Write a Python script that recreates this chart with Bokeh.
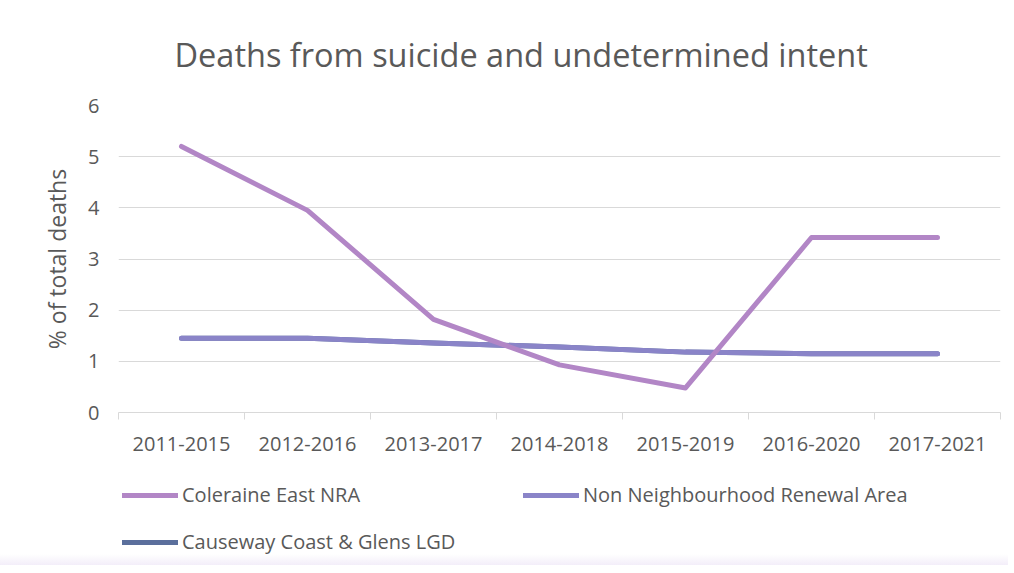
from bokeh.plotting import figure
from bokeh.layouts import column
from bokeh.models import Range1d, FixedTicker, Legend, LegendItem
from bokeh.embed import file_html
from bokeh.resources import INLINE

categories = ["2011-2015", "2012-2016", "2013-2017", "2014-2018", "2015-2019", "2016-2020", "2017-2021"]
coleraine_east = [5.2, 3.95, 1.82, 0.93, 0.48, 3.42, 3.42]
non_nra = [1.45, 1.45, 1.36, 1.28, 1.18, 1.15, 1.15]
causeway_lgd = [1.45, 1.45, 1.36, 1.28, 1.18, 1.15, 1.15]
y_ticks = [0, 1, 2, 3, 4, 5, 6]
series_names = ["Coleraine East NRA", "Non Neighbourhood Renewal Area", "Causeway Coast & Glens LGD"]
series_colors = ["#B286C6", "#8A84C8", "#5B6F9C"]

TEXT = "#595959"
GRID = "#D9D9D9"
FONT = "Open Sans"

x = list(range(len(categories)))

p = figure(frame_width=882, frame_height=307, output_backend="svg", toolbar_location=None,
           x_range=Range1d(-0.5, len(categories) - 0.5), y_range=Range1d(0, 6),
           min_border_left=118, min_border_right=8, min_border_top=105, min_border_bottom=58)
p.outline_line_color = None

p.title.text = "Deaths from suicide and undetermined intent"
p.title.align = "left"
p.title.offset = 56
p.title.text_font = FONT
p.title.text_font_style = "normal"
p.title.text_font_size = "32.5px"
p.title.text_color = TEXT
p.title.standoff = 57

# axes
p.xaxis.ticker = FixedTicker(ticks=x, minor_ticks=[i - 0.5 for i in range(len(categories) + 1)])
p.xaxis.major_label_overrides = {i: c for i, c in enumerate(categories)}
p.xaxis.axis_line_color = GRID
p.xaxis.major_tick_line_color = None
p.xaxis.major_tick_out = 0
p.xaxis.minor_tick_line_color = GRID
p.xaxis.minor_tick_out = 7
p.xaxis.minor_tick_in = 0
p.xaxis.major_label_standoff = 17
p.xaxis.major_label_text_font = FONT
p.xaxis.major_label_text_font_size = "20px"
p.xaxis.major_label_text_color = TEXT

p.yaxis.ticker = FixedTicker(ticks=y_ticks, minor_ticks=[])
p.yaxis.axis_line_color = None
p.yaxis.major_tick_line_color = None
p.yaxis.minor_tick_line_color = None
p.yaxis.major_label_standoff = 13
p.yaxis.major_label_text_font = FONT
p.yaxis.major_label_text_font_size = "20px"
p.yaxis.major_label_text_color = TEXT
p.yaxis.axis_label = "% of total deaths"
p.yaxis.axis_label_text_font = FONT
p.yaxis.axis_label_text_font_style = "normal"
p.yaxis.axis_label_text_font_size = "23px"
p.yaxis.axis_label_text_color = TEXT
p.yaxis.axis_label_standoff = 12

p.xgrid.grid_line_color = None
p.ygrid.grid_line_color = GRID
p.ygrid.ticker = FixedTicker(ticks=y_ticks)

p.line(x, causeway_lgd, line_width=5, line_color=series_colors[2], line_cap="round", line_join="round")
p.line(x, non_nra, line_width=5, line_color=series_colors[1], line_cap="round", line_join="round")
p.line(x, coleraine_east, line_width=5, line_color=series_colors[0], line_cap="round", line_join="round")

# legend strip below the chart
nan = float("nan")
lg = figure(width=1008, height=95, output_backend="svg", toolbar_location=None,
            x_range=Range1d(0, 1), y_range=Range1d(0, 1),
            x_axis_location=None, y_axis_location=None, min_border=0)
lg.outline_line_color = None
lg.xgrid.grid_line_color = None
lg.ygrid.grid_line_color = None
lg.background_fill_alpha = 0
lg.border_fill_alpha = 0
lg.styles = {"background": "linear-gradient(to bottom, #FFFFFF 0px, #FFFFFF 84px, #F3EEF9 95px)"}
lr = [lg.line([nan], [nan], line_width=5, line_color=c, line_cap="round") for c in series_colors]

legend = Legend(items=[
    LegendItem(label=series_names[0], renderers=[lr[0]]),
    LegendItem(label=series_names[2], renderers=[lr[2]]),
    LegendItem(label=series_names[1], renderers=[lr[1]]),
], ncols=2, location=(4, 10), padding=0, margin=0, spacing=20,
    glyph_width=56, glyph_height=20, label_width=321, label_height=20, label_standoff=4,
    label_text_font=FONT, label_text_font_size="20px", label_text_color=TEXT,
    border_line_color=None, background_fill_alpha=0)
lg.add_layout(legend, "center")

layout = column(p, lg, spacing=0)
open("out.html", "w").write(file_html(layout, INLINE))
